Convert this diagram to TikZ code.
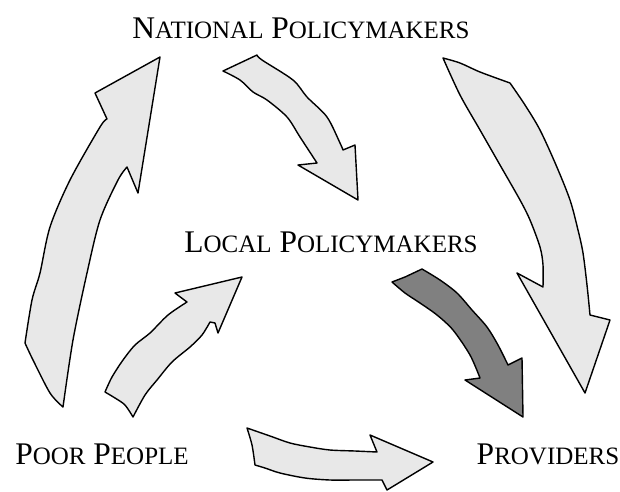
\documentclass[tikz,border=0pt]{standalone}
\usepackage{fontspec}
\setmainfont{Liberation Serif}
\definecolor{lightfill}{HTML}{E8E8E8}
\definecolor{darkfill}{HTML}{808080}
\newcommand\smc[1]{{\fontsize{25}{30}\selectfont\MakeUppercase{#1}}}
\tikzset{
  lbl/.style={anchor=base, inner sep=0pt, font=\fontsize{31.5}{37}\selectfont},
  flowarrow/.style={draw, fill=lightfill, line width=1.4pt, line join=round},
  darkarrow/.style={flowarrow, fill=darkfill}
}
\begin{document}
\begin{tikzpicture}[x=1pt, y=-1pt]
      \useasboundingbox (0,0) rectangle (620,491);
      \node[lbl] (natl) at (301,38) {N\smc{ational} P\smc{olicymakers}};
      \node[lbl] (local) at (331,252) {L\smc{ocal} P\smc{olicymakers}};
      \node[lbl] (poor) at (102,464) {P\smc{oor} P\smc{eople}};
      \node[lbl] (prov) at (548,464) {P\smc{roviders}};
      % poor people up to national
      \draw[flowarrow] (107,119) -- (95,93) -- (160,57) -- (138,193) -- (127,167)
        -- plot[smooth] coordinates {(127,167) (118,180) (100,220) (87,273) (73,340) (63,407)}
        -- plot[smooth] coordinates {(63,407) (50,393) (33,360) (25,343)}
        -- plot[smooth] coordinates {(25,343) (32,300) (40,273) (50,227) (70,180) (100,127) (107,119)}
        -- cycle;
      % national to local
      \draw[flowarrow] (223,71) -- (257,55)
        -- plot[smooth] coordinates {(257,55) (262,60) (293,80) (307,97) (327,117) (340,143) (343,150)}
        -- (355,145) -- (358,200) -- (298,165) -- (317,163)
        -- plot[smooth] coordinates {(317,163) (300,137) (287,117) (267,100) (253,92) (240,80) (223,71)}
        -- cycle;
      % national to providers
      \draw[flowarrow] plot[smooth] coordinates {(443,58) (460,63) (480,72) (510,83)}
        -- plot[smooth] coordinates {(510,83) (525,105) (540,130) (556,165) (570,200) (578,230) (583,253) (587,285) (590,315)}
        -- (610,320) -- (585,393) -- (517,273) -- (543,287)
        -- plot[smooth] coordinates {(543,287) (543,265) (540,247) (530,220) (520,200) (500,165) (480,130) (460,95) (443,58)}
        -- cycle;
      % local to providers
      \draw[darkarrow] (392,282) -- (405,277) -- (422,269)
        -- plot[smooth] coordinates {(422,269) (440,280) (457,293) (472,310) (487,327) (498,345) (508,365)}
        -- (522,358) -- (523,417) -- (465,380) -- (480,378)
        -- plot[smooth] coordinates {(480,378) (470,355) (453,330) (437,315) (420,303) (405,293) (392,282)}
        -- cycle;
      % poor people to local
      \draw[flowarrow] plot[smooth] coordinates {(105,392) (115,398) (125,405) (133,417)}
        -- plot[smooth] coordinates {(133,417) (145,395) (157,380) (172,362) (190,347) (202,335) (210,322)}
        -- (215,323) -- (218,333) -- (242,277) -- (175,293) -- (187,302)
        -- plot[smooth] coordinates {(187,302) (168,315) (150,333) (135,345) (123,360) (112,377) (105,392)}
        -- cycle;
      % poor people to providers
      \draw[flowarrow] plot[smooth] coordinates {(247,428) (270,436) (290,443) (310,447) (330,450) (355,451) (377,452)}
        -- (370,435) -- (433,462) -- (387,490) -- (382,480)
        -- plot[smooth] coordinates {(382,480) (355,480) (330,480) (305,478) (280,473) (265,468) (255,465)}
        -- plot[smooth] coordinates {(255,465) (252,445) (247,428)}
        -- cycle;
    \end{tikzpicture}
\end{document}
